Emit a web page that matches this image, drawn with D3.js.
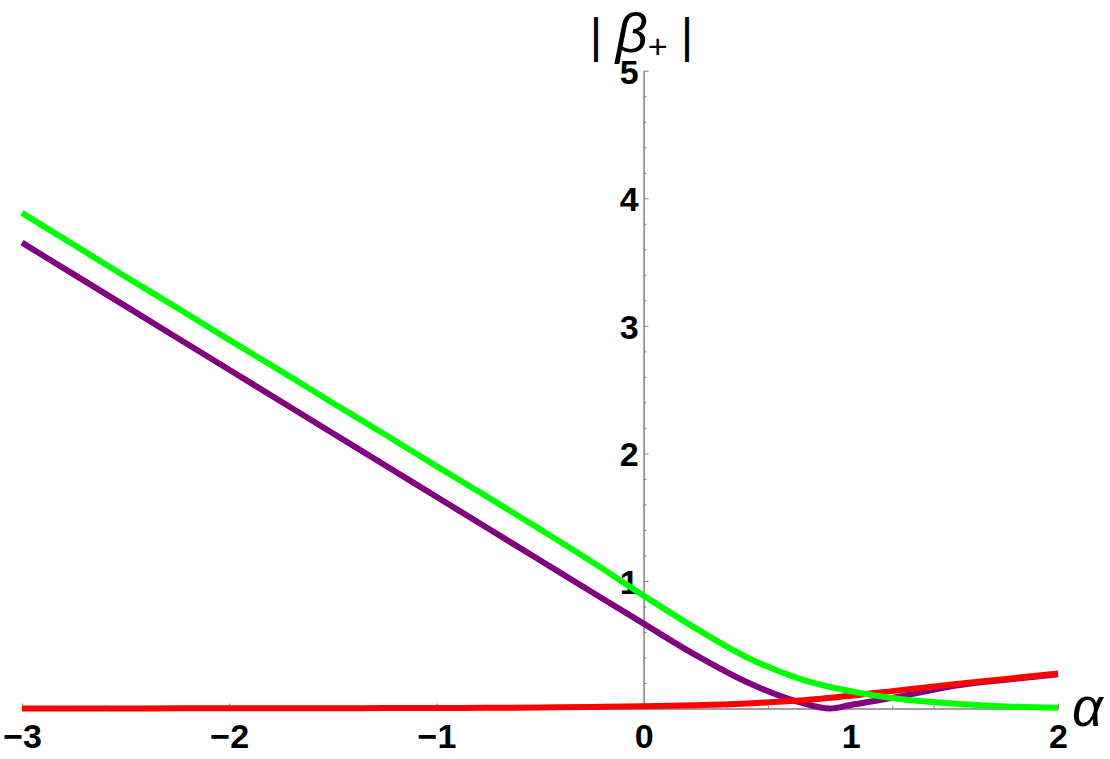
<!DOCTYPE html>
<html>
<head>
<meta charset="utf-8">
<script src="https://cdnjs.cloudflare.com/ajax/libs/d3/7.8.5/d3.min.js"></script>
<style>
	body { margin: 0; background: #fff; }
	svg { display: block; }
	.axis path, .axis line { stroke: #808080; stroke-width: 1px; }
	.axis text { font-family: "Liberation Sans", Arial, sans-serif; font-weight: bold; font-size: 34px; fill: #000; }
	.curve { fill: none; stroke-width: 6px; stroke-linejoin: round; }
</style>
</head>
<body>
<svg width="1110" height="759"></svg>
<script>

// values
var alphaValues = [-3, -2.75, -2.5, -2.25, -2, -1.75, -1.5, -1.25, -1, -0.75, -0.5, -0.25,
	0, 0.25, 0.5, 0.75, 1, 1.25, 1.5, 1.75, 2];

var greenValues = [3.885, 3.635, 3.385, 3.14, 2.89, 2.645, 2.395, 2.15, 1.90, 1.655, 1.405, 1.15,
	0.885, 0.63, 0.40, 0.235, 0.135, 0.072, 0.038, 0.016, 0.005];

var redValues = [0.0005, 0.0006, 0.0008, 0.001, 0.0013, 0.0017, 0.0023, 0.003, 0.004, 0.006, 0.008, 0.012,
	0.018, 0.026, 0.04, 0.062, 0.1, 0.146, 0.19, 0.232, 0.275];

var purpleAlpha = [-3, -2.75, -2.5, -2.25, -2, -1.75, -1.5, -1.25, -1, -0.75, -0.5, -0.25,
	0, 0.25, 0.5, 0.75, 0.9, 1, 1.25, 1.5, 1.75, 2];
var purpleValues = [3.652, 3.403, 3.154, 2.905, 2.656, 2.407, 2.158, 1.909, 1.66, 1.411, 1.162, 0.913,
	0.665, 0.42, 0.205, 0.05, 0.0, 0.028, 0.098, 0.178, 0.226, 0.268];

var xTickValues = [-3, -2, -1, 0, 1, 2];
var xTickLabels = ["\u22123", "\u22122", "\u22121", "0", "1", "2"];
var yTickValues = [1, 2, 3, 4, 5];
var yTickLabels = ["1", "2", "3", "4", "5"];

var svg = d3.select("svg");

var x = d3.scaleLinear().domain([-3, 2]).range([22, 1058]);
var y = d3.scaleLinear().domain([0, 5]).range([708.5, 70.7]);

var minorX = d3.range(-3, 2.0001, 0.2).map(function(d) { return Math.round(d * 10) / 10; })
	.filter(function(d) { return xTickValues.indexOf(d) < 0; });
var minorY = d3.range(0, 5.0001, 0.2).map(function(d) { return Math.round(d * 10) / 10; })
	.filter(function(d) { return d % 1 !== 0; });

// x axis (ticks point up, labels below)
svg.append("g")
		.attr("class", "axis")
		.attr("transform", "translate(0," + y(0) + ")")
		.call(d3.axisBottom(x).tickValues(minorX).tickSize(-3).tickSizeOuter(0).tickFormat(""));

svg.append("g")
		.attr("class", "axis")
		.attr("transform", "translate(0," + y(0) + ")")
		.call(d3.axisBottom(x)
			.tickValues(xTickValues)
			.tickSize(-5)
			.tickSizeOuter(0)
			.tickPadding(15)
			.tickFormat(function(d, i) { return xTickLabels[i]; }));

// y axis (ticks point right, labels left)
svg.append("g")
		.attr("class", "axis")
		.attr("transform", "translate(" + x(0) + ",0)")
		.call(d3.axisLeft(y).tickValues(minorY).tickSize(-3).tickSizeOuter(0).tickFormat(""));

svg.append("g")
		.attr("class", "axis")
		.attr("transform", "translate(" + x(0) + ",0)")
		.call(d3.axisLeft(y)
			.tickValues(yTickValues)
			.tickSize(-5)
			.tickSizeOuter(0)
			.tickPadding(5)
			.tickFormat(function(d, i) { return yTickLabels[i]; }))
	.selectAll("text")
		.attr("dy", "0.37em");

// curves
var smooth = d3.line()
		.x(function(d) { return x(d[0]); })
		.y(function(d) { return y(d[1]); })
		.curve(d3.curveCatmullRom);

var monotone = d3.line()
		.x(function(d) { return x(d[0]); })
		.y(function(d) { return y(d[1]); })
		.curve(d3.curveMonotoneX);

svg.append("path")
		.datum(d3.zip(purpleAlpha, purpleValues))
		.attr("class", "curve")
		.attr("stroke", "#800080")
		.attr("d", monotone);

svg.append("path")
		.datum(d3.zip(alphaValues, redValues))
		.attr("class", "curve")
		.attr("stroke", "#ff0000")
		.attr("d", monotone);

svg.append("path")
		.datum(d3.zip(alphaValues, greenValues))
		.attr("class", "curve")
		.attr("stroke", "#00ff00")
		.attr("d", smooth);

// axis labels
svg.append("text")
		.attr("x", x(2) + 14)
		.attr("y", y(0) + 17)
		.attr("font-family", "Liberation Sans, Arial, sans-serif")
		.attr("font-style", "italic")
		.attr("font-size", 54)
		.text("\u03b1");

var yLabel = svg.append("text")
		.attr("x", x(0) - 2)
		.attr("y", 52)
		.attr("text-anchor", "middle")
		.attr("font-family", "Liberation Sans, Arial, sans-serif")
		.attr("font-size", 48);
yLabel.append("tspan").text("| ");
yLabel.append("tspan").attr("font-style", "italic").attr("font-size", 56).text("\u03b2");
yLabel.append("tspan").attr("font-size", 34).attr("dy", 6).text("+");
yLabel.append("tspan").attr("dy", -6).text(" |");

</script>
</body>
</html>
